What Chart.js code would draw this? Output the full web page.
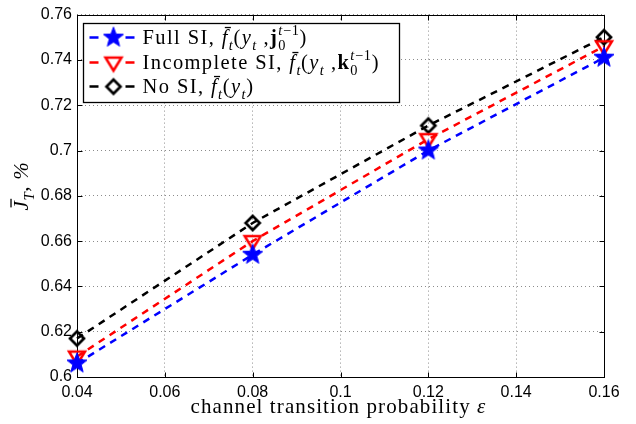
<!DOCTYPE html>
<html><head><meta charset="utf-8">
<script src="https://cdn.jsdelivr.net/npm/chart.js@4"></script>
<style>html,body{margin:0;padding:0;background:#fff}</style>
</head><body>
<canvas id="c" width="636" height="424"></canvas>
<script>
// ---- data ----
const epsilon = [0.04, 0.08, 0.12, 0.16];
const fullSI = [0.606, 0.654, 0.700, 0.741];
const incompleteSI = [0.609, 0.660, 0.705, 0.746];
const noSI = [0.617, 0.668, 0.711, 0.750];
const xTickValues = [0.04, 0.06, 0.08, 0.10, 0.12, 0.14, 0.16];
const xTickLabels = ['0.04', '0.06', '0.08', '0.1', '0.12', '0.14', '0.16'];
const yTickValues = [0.60, 0.62, 0.64, 0.66, 0.68, 0.70, 0.72, 0.74, 0.76];
const yTickLabels = ['0.6', '0.62', '0.64', '0.66', '0.68', '0.7', '0.72', '0.74', '0.76'];
const seriesNames = ['Full SI', 'Incomplete SI', 'No SI'];

const SERIF = '"Liberation Serif", "Times New Roman", serif';

// rich-text labels (legend / axis titles)
const legendRich = [
  [{t:'Full SI, '},{t:'f',i:1,bar:1},{t:'t',i:1,sub:1},{t:'('},{t:'y',i:1},{t:'t',i:1,sub:1},{t:' ,'},{t:'j',b:1},
   {stack:[[{t:'0',sub:1}],[{t:'t',i:1,sup:1},{t:'−1',sup:1}]]},{t:')'}],
  [{t:'Incomplete SI, '},{t:'f',i:1,bar:1},{t:'t',i:1,sub:1},{t:'('},{t:'y',i:1},{t:'t',i:1,sub:1},{t:' ,'},{t:'k',b:1},
   {stack:[[{t:'0',sub:1}],[{t:'t',i:1,sup:1},{t:'−1',sup:1}]]},{t:')'}],
  [{t:'No SI, '},{t:'f',i:1,bar:1},{t:'t',i:1,sub:1},{t:'('},{t:'y',i:1},{t:'t',i:1,sub:1},{t:')'}]
];
const yTitleRich = [{t:'J',i:1,bar:1},{t:'T',i:1,sub:1},{t:', '},{t:'%',i:1}];
const xTitleRich = [{t:'channel transition probability '},{t:'ε',i:1}];

function drawSegs(ctx, segs, x, y, size, dry, ls){
  ls = ls || 0;
  let cx = x;
  for (const s of segs){
    if (s.stack){
      const w1 = drawSegs(ctx, s.stack[0], cx, y, size, dry, ls);
      const w2 = drawSegs(ctx, s.stack[1], cx, y, size, dry, ls);
      cx += Math.max(w1, w2);
      continue;
    }
    const small = s.sub || s.sup;
    const fs = small ? size * 0.7 : size;
    ctx.font = (s.i ? 'italic ' : '') + (s.b ? 'bold ' : '') + fs + 'px ' + SERIF;
    ctx.letterSpacing = (small ? ls * 0.5 : ls) + 'px';
    const w = ctx.measureText(s.t).width;
    const dy = s.sub ? size * 0.3 : (s.sup ? -size * 0.42 : 0);
    if (!dry){
      ctx.fillText(s.t, cx, y + dy);
      if (s.bar) ctx.fillRect(cx + fs * 0.15, y - size * 0.84, w * 0.85, 1.3);
    }
    cx += w;
  }
  ctx.letterSpacing = '0px';
  return cx - x;
}

// marker images
function makeStar(){
  const c = document.createElement('canvas'); c.width = 24; c.height = 24;
  const g = c.getContext('2d'); const R = 10.5, r = R * 0.42;
  g.beginPath();
  for (let k = 0; k < 10; k++){
    const a = -Math.PI / 2 + k * Math.PI / 5; const rr = k % 2 ? r : R;
    const px = 12 + rr * Math.cos(a), py = 12 + rr * Math.sin(a);
    k ? g.lineTo(px, py) : g.moveTo(px, py);
  }
  g.closePath(); g.fillStyle = '#0000ff'; g.fill();
  g.strokeStyle = '#0000ff'; g.lineWidth = 1; g.stroke();
  return c;
}
function makeTri(){
  const c = document.createElement('canvas'); c.width = 22; c.height = 22;
  const g = c.getContext('2d');
  g.beginPath(); g.moveTo(11 - 8, 11 - 5); g.lineTo(11 + 8, 11 - 5); g.lineTo(11, 11 + 8); g.closePath();
  g.strokeStyle = '#ff0000'; g.lineWidth = 2.5; g.stroke();
  return c;
}
function makeDiamond(){
  const c = document.createElement('canvas'); c.width = 20; c.height = 20;
  const g = c.getContext('2d'); const h = 7;
  g.beginPath(); g.moveTo(10, 10 - h); g.lineTo(10 + h, 10); g.lineTo(10, 10 + h); g.lineTo(10 - h, 10); g.closePath();
  g.strokeStyle = '#000'; g.lineWidth = 2.7; g.stroke();
  return c;
}
const markers = [makeStar(), makeTri(), makeDiamond()];
const colors = ['#0000ff', '#ff0000', '#000000'];
const seriesValues = [fullSI, incompleteSI, noSI];

const deco = {
  id: 'deco',
  beforeDatasetsDraw(chart){
    const {ctx, chartArea: a, scales: {x, y}} = chart;
    ctx.save();
    ctx.strokeStyle = '#000'; ctx.lineWidth = 1; ctx.setLineDash([]);
    const l = Math.round(a.left) + 0.5, r = Math.round(a.right) + 0.5, t = Math.round(a.top) + 0.5, b = Math.round(a.bottom) + 0.5;
    ctx.strokeRect(l, t, r - l, b - t);
    const L = 5;
    ctx.beginPath();
    x.ticks.forEach(tk => { const px = Math.round(x.getPixelForValue(tk.value)) + 0.5;
      ctx.moveTo(px, b); ctx.lineTo(px, b - L); ctx.moveTo(px, t); ctx.lineTo(px, t + L); });
    y.ticks.forEach(tk => { const py = Math.round(y.getPixelForValue(tk.value)) + 0.5;
      ctx.moveTo(l, py); ctx.lineTo(l + L, py); ctx.moveTo(r, py); ctx.lineTo(r - L, py); });
    ctx.stroke();
    ctx.restore();
  },
  afterDraw(chart){
    const {ctx, chartArea: a} = chart;
    ctx.save();
    // legend
    const bx = a.left + 5.5, by = a.top + 8, bw = 316, bh = 79;
    ctx.fillStyle = '#fff'; ctx.fillRect(bx, by, bw, bh);
    ctx.strokeStyle = '#000'; ctx.lineWidth = 1.3; ctx.strokeRect(Math.round(bx) + 0.5, Math.round(by) + 0.5, bw, bh);
    const rows = [by + 15, by + 40, by + 64];
    rows.forEach((cy, k) => {
      ctx.strokeStyle = colors[k]; ctx.lineWidth = 2.5; ctx.setLineDash([]);
      ctx.beginPath(); ctx.moveTo(bx + 7, cy); ctx.lineTo(bx + 16, cy); ctx.moveTo(bx + 43, cy); ctx.lineTo(bx + 52, cy); ctx.stroke();
      const m = markers[k];
      ctx.drawImage(m, bx + 31 - m.width / 2, cy - m.height / 2);
      ctx.fillStyle = '#000';
      drawSegs(ctx, legendRich[k], bx + 60, cy + 6.5, 20.5, false, 1.4);
    });
    // x title
    ctx.fillStyle = '#000';
    const wx = drawSegs(ctx, xTitleRich, 0, 0, 21, true, 1.1);
    drawSegs(ctx, xTitleRich, (a.left + a.right) / 2 - 2 - wx / 2, 413, 21, false, 1.1);
    // y title
    const wy = drawSegs(ctx, yTitleRich, 0, 0, 21, true, 0.8);
    ctx.translate(28, 186); ctx.rotate(-Math.PI / 2);
    drawSegs(ctx, yTitleRich, -wy / 2, 0, 21, false, 0.8);
    ctx.restore();
  }
};

new Chart(document.getElementById('c'), {
  type: 'scatter',
  data: {
    datasets: seriesNames.map((name, k) => ({
      label: name,
      data: epsilon.map((e, i) => ({x: e, y: seriesValues[k][i]})),
      showLine: true,
      borderColor: colors[k],
      backgroundColor: colors[k],
      borderWidth: 2.5,
      borderDash: [7, 6],
      pointStyle: markers[k],
      pointRadius: 8,
      pointHoverRadius: 8,
      clip: false,
      tension: 0
    }))
  },
  options: {
    responsive: false,
    animation: false,
    events: [],
    layout: {padding: {top: 10, right: 32, left: 0, bottom: 0}},
    plugins: {legend: {display: false}, tooltip: {enabled: false}},
    scales: {
      x: {
        type: 'linear', min: 0.04, max: 0.16,
        afterBuildTicks: s => { s.ticks = xTickValues.map(v => ({value: v})); },
        afterFit: s => { s.height = 47; },
        ticks: {callback: (v, i) => xTickLabels[i], color: '#000', padding: 6,
                font: {family: '"Liberation Sans", Arial, sans-serif', size: 16}, maxRotation: 0, autoSkip: false},
        grid: {color: 'rgba(0,0,0,0.45)', lineWidth: 1, drawTicks: false},
        border: {display: false, dash: [1, 3]}
      },
      y: {
        type: 'linear', min: 0.6, max: 0.76,
        afterBuildTicks: s => { s.ticks = yTickValues.map(v => ({value: v})); },
        afterFit: s => { s.width = 77; },
        ticks: {callback: (v, i) => yTickLabels[i], color: '#000', padding: 5,
                font: {family: '"Liberation Sans", Arial, sans-serif', size: 16}, autoSkip: false},
        grid: {color: 'rgba(0,0,0,0.45)', lineWidth: 1, drawTicks: false},
        border: {display: false, dash: [1, 3]}
      }
    }
  },
  plugins: [deco]
});
</script>
</body></html>
